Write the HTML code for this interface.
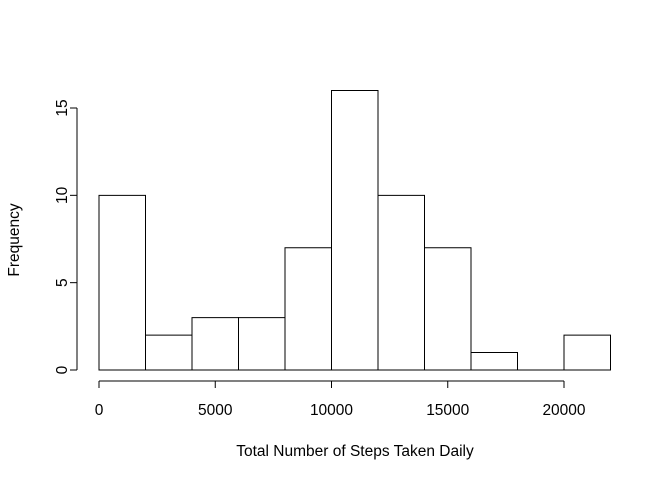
<!DOCTYPE html>
<html><head><meta charset="utf-8"><style>body{margin:0;background:#fff}svg{display:block}text{font-family:"Liberation Sans",Arial,sans-serif;font-size:15.5px;fill:#000}</style></head>
<body>
<svg id="chart" width="672" height="480" xmlns="http://www.w3.org/2000/svg"></svg>
<script>
const breaks=[0,2000,4000,6000,8000,10000,12000,14000,16000,18000,20000,22000];
const counts=[10,2,3,3,7,16,10,7,1,0,2];
const xTicks=[0,5000,10000,15000,20000];
const yTicks=[0,5,10,15];
const NS="http://www.w3.org/2000/svg";
const svg=document.getElementById('chart');
const x=v=>99+(v/20000)*465;
const y=v=>370-(v/15)*262;
function mk(t,a,p){const e=document.createElementNS(NS,t);for(const k in a)e.setAttribute(k,a[k]);(p||svg).appendChild(e);return e;}
const bars=mk('g',{});


counts.forEach((c,i)=>{const x0=x(breaks[i]),x1=x(breaks[i+1]),y0=y(0),y1=y(c);
const r=mk('path',{d:`M${x0},${y0}L${x0},${y1}L${x1},${y1}L${x1},${y0}Z`,fill:'#fff',stroke:'#000','stroke-width':1},bars);

});
const xa=mk('g',{});


mk('line',{x1:x(xTicks[0]),x2:x(xTicks[xTicks.length-1]),y1:381,y2:381,stroke:'#000'},xa);
xTicks.forEach(t=>{mk('line',{x1:x(t),x2:x(t),y1:381,y2:388,stroke:'#000'},xa);const l=mk('text',{x:x(t),y:415,'text-anchor':'middle'},xa);l.textContent=t;

});
const ya=mk('g',{});


mk('line',{x1:77,x2:77,y1:y(yTicks[0]),y2:y(yTicks[yTicks.length-1]),stroke:'#000'},ya);
yTicks.forEach(t=>{mk('line',{x1:70,x2:77,y1:y(t),y2:y(t),stroke:'#000'},ya);const l=mk('text',{x:0,y:0,'text-anchor':'middle',transform:`translate(67,${y(t)}) rotate(-90)`},ya);l.textContent=t;

});
const xt=mk('text',{x:355,y:456,'text-anchor':'middle'});xt.textContent='Total Number of Steps Taken Daily';


const yt=mk('text',{x:0,y:0,'text-anchor':'middle',transform:'translate(19,240) rotate(-90)'});yt.textContent='Frequency';


</script>
</body></html>
